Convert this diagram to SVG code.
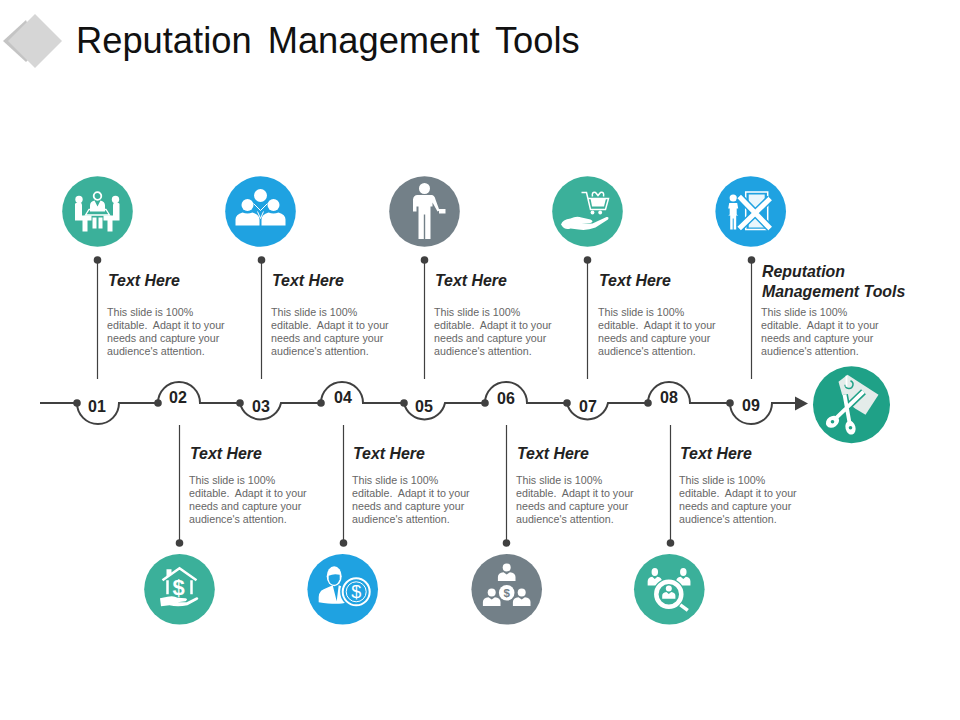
<svg xmlns="http://www.w3.org/2000/svg" width="960" height="720" viewBox="0 0 960 720">
<style>
text{font-family:"Liberation Sans",Arial,sans-serif}
.title{font-size:36.3px;fill:#111;word-spacing:6px}
.h{font-size:15.9px;font-weight:bold;font-style:italic;fill:#222}
.b{font-size:10.7px;fill:#666;white-space:pre}
.n{font-size:16px;font-weight:bold;fill:#222;text-anchor:middle}
.line{fill:none;stroke:#404040;stroke-width:2}
.thin{fill:none;stroke:#404040;stroke-width:1.2}
.dot{fill:#404040}
.w{fill:#fff}
.ws{fill:none;stroke:#fff}
.teal{fill:#3bb09a}
.blue{fill:#1fa2e1}
.grey{fill:#738088}
</style>
<defs>
<g id="copy">
<text class="b" x="0" y="0">This slide is 100%</text>
<text class="b" x="0" y="13">editable.  Adapt it to your</text>
<text class="b" x="0" y="26">needs and capture your</text>
<text class="b" x="0" y="39">audience's attention.</text>
</g>
<g id="bust">
<circle class="w" cx="0" cy="-8" r="5"/>
<path class="w" d="M-11 9V4Q-11 -1 -4 -2L0 1L4 -2Q11 -1 11 4V9Z"/>
</g>
</defs>
<rect width="960" height="720" fill="#fff"/>
<g id="logo">
<path fill="#c4c4c4" d="M26 20L3 41L26 62L38 50Z"/>
<path fill="#d6d6d6" d="M35 14L62 41L35 68L8 41Z"/>
</g>
<text id="title" class="title" x="76" y="53">Reputation Management Tools</text>
<g id="connectors">
<path class="line" d="M40 403H77A21 21 0 0 0 119 403H158A21 21 0 0 1 200 403H240A21 21 0 0 0 281 403H321A21 21 0 0 1 363 403H404A21 21 0 0 0 445 403H485A21 21 0 0 1 527 403H567A21 21 0 0 0 608 403H648A21 21 0 0 1 690 403H730A21 21 0 0 0 772 403H796"/>
<path class="dot" d="M795 396.500L808 403.500L795 410.500Z"/>
<g class="dot">
<circle cx="77" cy="403" r="3.800"/><circle cx="158" cy="403" r="3.800"/><circle cx="240" cy="403" r="3.800"/>
<circle cx="321" cy="403" r="3.800"/><circle cx="404" cy="403" r="3.800"/><circle cx="485" cy="403" r="3.800"/>
<circle cx="567" cy="403" r="3.800"/><circle cx="648" cy="403" r="3.800"/><circle cx="730" cy="403" r="3.800"/>
<circle cx="97.500" cy="260" r="3.800"/><circle cx="261.500" cy="260" r="3.800"/><circle cx="424.500" cy="260" r="3.800"/><circle cx="587.500" cy="260" r="3.800"/><circle cx="751.500" cy="260" r="3.800"/>
<circle cx="179.500" cy="543" r="3.800"/><circle cx="343.500" cy="543" r="3.800"/><circle cx="506.500" cy="543" r="3.800"/><circle cx="670.500" cy="543" r="3.800"/>
</g>
<path class="thin" d="M97.500 260V379M261.500 260V379M424.500 260V379M587.500 260V379M751.500 260V379M179.500 425V543M343.500 425V543M506.500 425V543M670.500 425V543"/>
</g>
<g id="numbers">
<text class="n" x="97" y="412">01</text><text class="n" x="178" y="403">02</text><text class="n" x="261" y="412">03</text>
<text class="n" x="343" y="403">04</text><text class="n" x="424" y="412">05</text><text class="n" x="506" y="404">06</text>
<text class="n" x="588" y="412">07</text><text class="n" x="669" y="403">08</text><text class="n" x="751" y="411">09</text>
</g>
<g id="step1"><text class="h" x="108" y="286">Text Here</text><use href="#copy" x="107" y="316"/></g>
<g id="step2"><text class="h" x="190" y="459">Text Here</text><use href="#copy" x="189" y="484"/></g>
<g id="step3"><text class="h" x="272" y="286">Text Here</text><use href="#copy" x="271" y="316"/></g>
<g id="step4"><text class="h" x="353" y="459">Text Here</text><use href="#copy" x="352" y="484"/></g>
<g id="step5"><text class="h" x="435" y="286">Text Here</text><use href="#copy" x="434" y="316"/></g>
<g id="step6"><text class="h" x="517" y="459">Text Here</text><use href="#copy" x="516" y="484"/></g>
<g id="step7"><text class="h" x="599" y="286">Text Here</text><use href="#copy" x="598" y="316"/></g>
<g id="step8"><text class="h" x="680" y="459">Text Here</text><use href="#copy" x="679" y="484"/></g>
<g id="step9"><text class="h" x="762" y="277">Reputation</text><text class="h" x="762" y="297">Management Tools</text><use href="#copy" x="761" y="316"/></g>
<g id="icon1" transform="translate(97.500 211.500)">
<circle class="teal" r="35.300"/>
<circle class="ws" cx="0" cy="-15.500" r="3.800" stroke-width="1.800"/>
<path class="w" d="M-7.500 0V-6Q-7.500 -10 -3 -11L0 -5L3 -11Q7.500 -10 7.500 -6V0Z"/>
<circle class="w" cx="-18.500" cy="-12" r="3.700"/><circle class="w" cx="18" cy="-12" r="3.700"/>
<path class="w" d="M-22.500 -7.500Q-22 -9 -18 -9Q-15.500 -9 -15.500 -6V4H-6V9H-10V20H-15V9H-22.500Z"/>
<path class="w" d="M22 -7.500Q21.500 -9 18 -9Q15.500 -9 15.500 -6V4H6V9H10V20H15V9H22Z"/>
<path class="ws" stroke-width="1.300" d="M-8.500 -2H8.500L12 3.500H-12Z"/>
<path class="w" d="M-5 6H-1V17H-5ZM1 6H5V17H1Z"/>
</g>
<g id="icon2" transform="translate(260.500 211.500)">
<circle class="blue" r="35.300"/>
<circle class="w" cx="0" cy="-16" r="6.500"/><circle class="w" cx="-13" cy="-6.500" r="6"/><circle class="w" cx="13" cy="-6.500" r="6"/>
<path class="ws" stroke-width="1" d="M-7 -8L0 -1L7 -8M-3 0L0 7L3 0"/>
<path class="w" d="M-25 14V8Q-25 3 -18 1Q-13 3 -8 1Q-1 3 -1 8V14Z"/>
<path class="w" d="M25 14V8Q25 3 18 1Q13 3 8 1Q1 3 1 8V14Z"/>
</g>
<g id="icon3" transform="translate(424.500 211.500)">
<circle class="grey" r="35.300"/>
<circle class="w" cx="0" cy="-23" r="5.500"/>
<path class="w" d="M-7 -16.500H7Q10 -16.500 11 -12L15 -1L13 0L8 -9V-5L6 -5V27.500H.7V3H-.7V27.500H-6V-5L-8 -5V0H-11.500V-12Q-11 -16.500 -7 -16.500Z"/>
<path class="w" d="M14.500 -2.500H21V2H14.500Z"/>
</g>
<g id="icon4" transform="translate(587.500 211.500)">
<circle class="teal" r="35.300"/>
<path class="ws" stroke-width="1.500" d="M-6 -19H-1L3 -2H18L21 -13H0"/>
<path class="w" d="M3 -13H18.500L16.500 -5H4.500Z"/>
<path class="ws" stroke-width="1.500" d="M5 -15Q4 -20 8 -19L10.500 -16L13 -19Q17 -20 16 -15"/>
<circle class="w" cx="5" cy="1" r="1.900"/><circle class="w" cx="12.700" cy="1" r="1.900"/>
<path class="w" d="M-26.500 13Q-25 8 -17 7Q-11 4 -6 6L3 8Q7 10 3 11.500L-6 12.500L5 12L19 5.500Q22 5 20.500 8L8 16Q-1 19.500 -9 18L-17 17Q-23 19 -26.500 13Z"/>
</g>
<g id="icon5" transform="translate(750.700 211.500)">
<circle class="blue" r="35.300"/>
<circle class="w" cx="-17.500" cy="-13.500" r="3.600"/>
<path class="w" d="M-21.500 -8.500H-13.500L-12.500 -3H-14V3L-12.500 4H-14.500V18H-17V7H-18V18H-20.500V4H-22.500L-21 3V-3H-22.500Z"/>
<path class="ws" stroke-width="1.500" d="M-5 -19.500H17V18H-5Z"/>
<path class="w" d="M-2 -17H14V-10L6 -1L14 8V16H-2V8L6 -1L-2 -10Z" fill-opacity=".9"/>
<path fill="none" stroke="#1fa2e1" stroke-width="8" d="M-11.500 17L19.500 -13M-11.500 -15L19.500 17"/>
<path class="ws" stroke-width="5" d="M-11.500 17L19.500 -13M-11.500 -15L19.500 17"/>
</g>
<g id="icon6" transform="translate(179.500 589.300)">
<circle class="teal" r="35.300"/>
<path class="ws" stroke-width="2.500" d="M-17 -9L0 -21L17 -9M-12 -9V5M12 -9V5"/>
<path class="w" d="M-13 -20H-8V-15L-13 -11Z"/>
<text x="-1" y="5.500" font-size="22" font-weight="bold" text-anchor="middle" fill="#fff">$</text>
<path class="w" d="M-19.500 9L-12 7.500Q-6 6 -2 8.500L6 9Q9 10 6 12L-2 13L7 13L17 8Q20 8 18 10.500L8 16Q-2 18 -10 16L-18.500 17Z"/>
</g>
<g id="icon7" transform="translate(342.700 589.300)">
<circle class="blue" r="35.300"/>
<path class="w" d="M-24 13Q-25 2 -19 0L-10 -4L-6 12L-4 -4L4 -1V13Q-4 16 -24 13Z"/>
<ellipse class="w" cx="-8.500" cy="-13" rx="7.500" ry="10"/>
<path fill="#1fa2e1" d="M-14 -13.500Q-9 -16 -3 -14.500L-3 -10Q-5 -4.500 -8.500 -4.500Q-13 -4.500 -14 -10Z"/>
<circle fill="#1fa2e1" cx="13.500" cy="2.500" r="16"/>
<circle class="ws" cx="13.500" cy="2.500" r="13.500" stroke-width="2"/>
<circle class="ws" cx="13.500" cy="2.500" r="10" stroke-width="1"/>
<text x="13.500" y="9" font-size="18" text-anchor="middle" fill="#fff" font-family="Liberation Serif">$</text>
</g>
<g id="icon8" transform="translate(506.700 589.300)">
<circle class="grey" r="35.300"/>
<g transform="translate(0 -15.500) scale(.8)"><use href="#bust"/></g>
<g transform="translate(-15 9.500) scale(.8)"><use href="#bust"/></g>
<g transform="translate(15 9.500) scale(.8)"><use href="#bust"/></g>
<circle class="w" cx="0" cy="3.500" r="7.800"/>
<text x="0" y="7.500" font-size="11.500" font-weight="bold" text-anchor="middle" fill="#738088">$</text>
</g>
<g id="icon9" transform="translate(669.300 589.300)">
<circle class="teal" r="35.300"/>
<g transform="translate(-14.500 -11) scale(.65 .8)"><use href="#bust"/></g>
<g transform="translate(14 -11) scale(.65 .8)"><use href="#bust"/></g>
<circle class="teal" cx="-.500" cy="5" r="16"/>
<circle class="ws" cx="-.500" cy="5" r="12.500" stroke-width="4.500"/>
<g transform="translate(-.500 4) scale(.6)"><use href="#bust"/></g>
<path class="ws" stroke-width="3.500" d="M11 15.500L18.500 21"/>
</g>
<g id="icon10" transform="translate(851.500 404.700)">
<circle r="38.500" fill="#1fa187"/>
<path fill="#e4ecea" d="M-13 -23L-4 -30L27 -10L14 10L4 4L-8 -5Z"/>
<path fill="none" stroke="#1fa187" stroke-width="1.500" d="M-6.500 -20A4 4 0 1 0 -1 -24"/>
<path class="ws" stroke-width="1.800" d="M-5 -29V-18"/>
<path fill="none" stroke="#1fa187" stroke-width="7" d="M-15 13L12 -13M-2 18L-7 -10"/>
<path class="ws" stroke-width="3.800" d="M-15 13L12 -13M-2 18L-7 -10"/>
<ellipse class="w" cx="-19" cy="17" rx="7" ry="5.500" transform="rotate(-35 -19 17)"/>
<ellipse class="w" cx="-1" cy="23" rx="5" ry="7" transform="rotate(-15 -1 23)"/>
<circle cx="-19" cy="17" r="1.800" fill="#1fa187"/>
<circle cx="-1" cy="23" r="1.800" fill="#1fa187"/>
</g>
</svg>
